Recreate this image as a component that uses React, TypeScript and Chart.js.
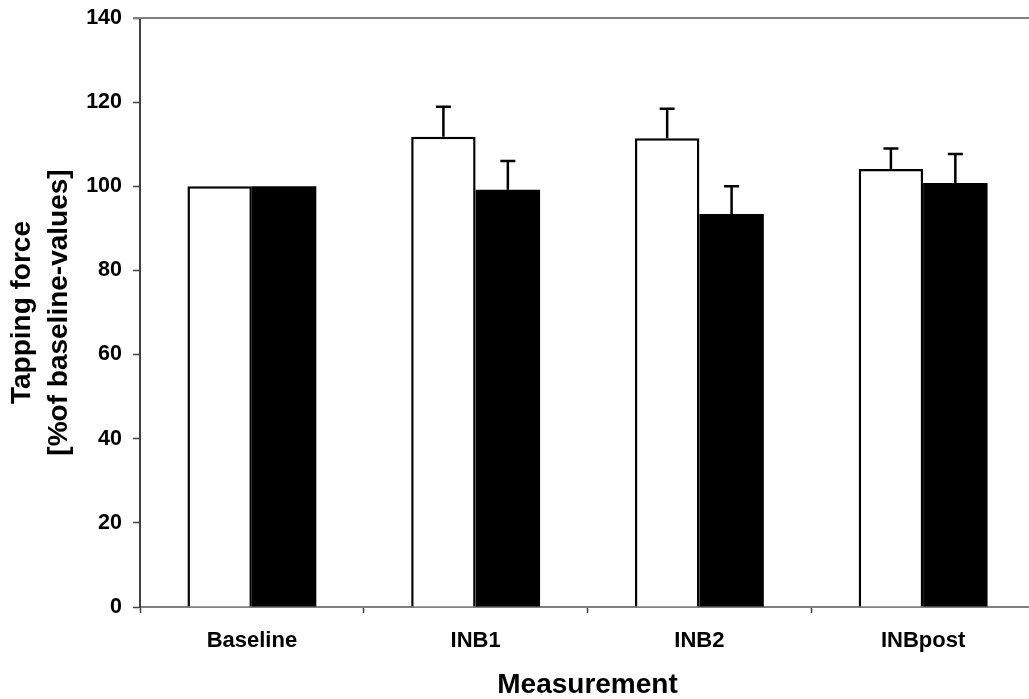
import React, { useEffect, useRef } from "react";
import { Chart, registerables } from "chart.js";

Chart.register(...registerables);

const categories = ["Baseline", "INB1", "INB2", "INBpost"];
const whiteValues = [100, 111.8, 111.4, 104.1];
const blackValues = [100, 99.2, 93.4, 100.8];
const whiteErrors = [0, 7.1, 7.0, 4.9];
const blackErrors = [0, 6.8, 6.6, 6.9];
const yTicks = { min: 0, max: 140, step: 20 };
const yTitle = ["Tapping force", "[%of baseline-values]"];
const xTitle = "Measurement";

const FONT = "'Liberation Sans', Arial, Helvetica, sans-serif";

const errorBarPlugin = {
  id: "errorBars",
  afterDatasetsDraw(chart: any) {
    const ctx = chart.ctx;
    const yScale = chart.scales.y;
    const errs = [whiteErrors, blackErrors];
    ctx.save();
    ctx.strokeStyle = "#000";
    ctx.lineWidth = 2.5;
    chart.data.datasets.forEach((ds: any, di: number) => {
      const meta = chart.getDatasetMeta(di);
      meta.data.forEach((bar: any, i: number) => {
        const e = errs[di][i];
        if (!e) return;
        const v = ds.data[i];
        const x = bar.x;
        const y0 = yScale.getPixelForValue(v);
        const y1 = yScale.getPixelForValue(v + e);
        ctx.beginPath();
        ctx.moveTo(x, y0);
        ctx.lineTo(x, y1);
        ctx.moveTo(x - 7.5, y1);
        ctx.lineTo(x + 7.5, y1);
        ctx.stroke();
      });
    });
    const ca = chart.chartArea;
    ctx.strokeStyle = "#808080";
    ctx.lineWidth = 2;
    ctx.beginPath();
    ctx.moveTo(ca.left - 7, ca.top);
    ctx.lineTo(ca.right, ca.top);
    ctx.stroke();
    ctx.restore();
  },
};

export default function App() {
  const ref = useRef<HTMLCanvasElement>(null);
  useEffect(() => {
    if (!ref.current) return;
    const chart = new Chart(ref.current, {
      type: "bar",
      data: {
        labels: categories,
        datasets: [
          {
            data: whiteValues,
            backgroundColor: "#ffffff",
            borderColor: "#000000",
            borderWidth: 2.5,
            barPercentage: 1,
            categoryPercentage: 0.576,
          },
          {
            data: blackValues,
            backgroundColor: "#000000",
            borderColor: "#000000",
            borderWidth: 0,
            barPercentage: 1,
            categoryPercentage: 0.576,
          },
        ],
      },
      options: {
        animation: false,
        responsive: false,
        maintainAspectRatio: false,
        layout: { padding: { top: 18, left: 0, right: 0, bottom: 0 } },
        plugins: { legend: { display: false }, tooltip: { enabled: false } },
        scales: {
          x: {
            offset: true,
            grid: {
              offset: true,
              drawOnChartArea: false,
              drawTicks: true,
              tickLength: 6,
              tickColor: "#404040",
              tickWidth: 1.5,
            },
            border: { display: true, color: "#808080", width: 2 },
            ticks: {
              color: "#000",
              padding: 15,
              font: { family: FONT, size: 22, weight: "bold" },
            },
            title: {
              display: true,
              text: xTitle,
              color: "#000",
              padding: { top: 0, bottom: 0 },
              font: { family: FONT, size: 28, weight: "bold", lineHeight: 1 },
            },
            afterFit(scale: any) {
              scale.height = 92;
              scale.paddingLeft = 0;
              scale.paddingRight = 0;
            },
          },
          y: {
            min: yTicks.min,
            max: yTicks.max,
            grid: {
              drawOnChartArea: false,
              drawTicks: true,
              tickLength: 7,
              tickColor: "#404040",
              tickWidth: 1.5,
            },
            border: { display: true, color: "#404040", width: 2 },
            ticks: {
              stepSize: yTicks.step,
              color: "#000",
              padding: 11,
              font: { family: FONT, size: 21.5, weight: "bold" },
            },
            title: {
              display: true,
              text: yTitle,
              color: "#000",
              padding: { top: 3, bottom: 0 },
              font: { family: FONT, size: 28, weight: "bold", lineHeight: 1.35 },
            },
            afterFit(scale: any) {
              scale.width = 140;
              scale.paddingTop = 0;
              scale.paddingBottom = 0;
            },
          },
        },
      },
      plugins: [errorBarPlugin],
    });
    return () => chart.destroy();
  }, []);
  return (
    <div style={{ position: "fixed", left: 0, top: 0, width: 1035, height: 699, background: "#fff" }}>
      <canvas ref={ref} width={1035} height={699} style={{ display: "block" }} />
    </div>
  );
}
